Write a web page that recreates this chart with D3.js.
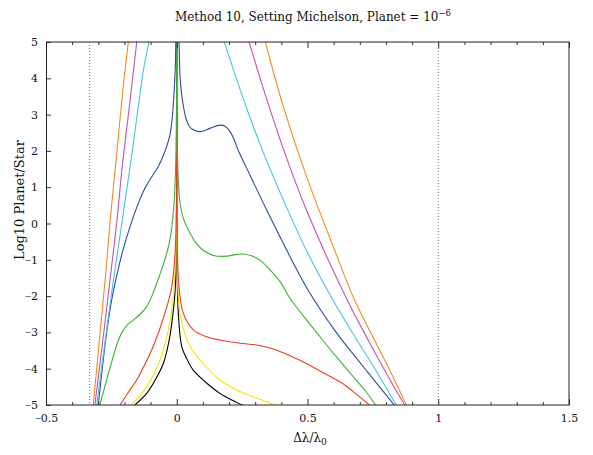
<!DOCTYPE html>
<html><head><meta charset="utf-8">
<script src="https://cdn.jsdelivr.net/npm/d3@7"></script>
<style>body{margin:0;background:#fff}svg{display:block}text{font-family:"DejaVu Serif",serif}</style>
</head><body><svg id="c" width="593" height="455"></svg>
<script>
// ---- data ----
const xDomain = [-0.5, 1.5];
const yDomain = [-5, 5];
const xMajorTicks = [-0.5, 0, 0.5, 1, 1.5];
const xMinorTicks = [-0.4,-0.3,-0.2,-0.1,0.1,0.2,0.3,0.4,0.6,0.7,0.8,0.9,1.1,1.2,1.3,1.4];
const yTicks = [-5,-4,-3,-2,-1,0,1,2,3,4,5];
const dottedLines = [-1/3, 1];

const seriesNames  = ["black","yellow","red","green","blue","cyan","magenta","orange"];
const seriesColors = ["#000000","#f5e600","#f03a24","#3cb034","#2c4aa6","#44c4e0","#c452a8","#f58a1e"];

const blackLeft  = [[-0.160,-5.0],[-0.115,-4.68],[-0.080,-4.28],[-0.051,-3.85],[-0.030,-3.25],[-0.019,-2.75],[-0.0067,-1.91],[-0.002,-0.95],[-0.0005,0.2],[-0.0001,5.3]];
const blackRight = [[0.0001,5.3],[0.0005,-0.45],[0.002,-1.6],[0.006,-2.47],[0.019,-3.39],[0.040,-3.75],[0.063,-4.04],[0.115,-4.40],[0.165,-4.68],[0.210,-4.86],[0.257,-5.02]];
const yellowLeft = [[-0.172,-5.0],[-0.145,-4.77],[-0.115,-4.50],[-0.064,-3.76],[-0.032,-2.93],[-0.013,-2.02],[-0.004,-0.83],[-0.001,0.57],[-0.0001,5.3]];
const yellowRight= [[0.0001,5.3],[0.0005,-0.4],[0.003,-1.6],[0.012,-2.47],[0.030,-3.0],[0.051,-3.39],[0.100,-3.85],[0.165,-4.31],[0.242,-4.63],[0.320,-4.85],[0.395,-5.05]];
const redLeft    = [[-0.217,-5.0],[-0.185,-4.65],[-0.153,-4.31],[-0.120,-3.85],[-0.090,-3.39],[-0.045,-2.47],[-0.019,-1.74],[-0.006,-0.76],[-0.001,0.76],[-0.0001,5.3]];
const redRight   = [[0.0001,5.3],[0.002,-0.5],[0.008,-1.7],[0.025,-2.47],[0.063,-2.93],[0.115,-3.12],[0.165,-3.21],[0.242,-3.30],[0.300,-3.34],[0.357,-3.43],[0.433,-3.64],[0.500,-3.87],[0.550,-4.07],[0.637,-4.42],[0.675,-4.63],[0.740,-5.02]];
const greenLeft  = [[-0.294,-5.0],[-0.268,-4.31],[-0.243,-3.67],[-0.225,-3.25],[-0.211,-3.02],[-0.190,-2.80],[-0.166,-2.66],[-0.140,-2.50],[-0.115,-2.29],[-0.095,-2.0],[-0.077,-1.65],[-0.050,-1.1],[-0.026,-0.45],[-0.012,0.4],[-0.005,1.38],[-0.001,3.16],[-0.0002,5.3]];
const greenRight = [[0.0002,5.3],[0.002,2.2],[0.006,1.2],[0.012,0.6],[0.025,0.15],[0.051,-0.27],[0.075,-0.55],[0.100,-0.73],[0.140,-0.88],[0.191,-0.90],[0.230,-0.85],[0.255,-0.84],[0.293,-0.91],[0.325,-1.05],[0.357,-1.28],[0.400,-1.65],[0.433,-2.06],[0.490,-2.6],[0.548,-3.12],[0.610,-3.67],[0.675,-4.22],[0.720,-4.6],[0.765,-5.05]];
const blueLeft   = [[-0.300,-5.0],[-0.285,-4.0],[-0.268,-3.0],[-0.250,-2.15],[-0.230,-1.45],[-0.210,-0.85],[-0.190,-0.35],[-0.170,0.10],[-0.150,0.50],[-0.130,0.85],[-0.110,1.12],[-0.090,1.35],[-0.070,1.58],[-0.051,1.88],[-0.035,2.2],[-0.026,2.44],[-0.018,2.85],[-0.013,3.3],[-0.008,3.9],[-0.0055,4.3],[-0.003,5.3]];
const blueRight  = [[0.008,5.3],[0.010,4.6],[0.013,4.0],[0.018,3.6],[0.025,3.25],[0.035,2.9],[0.048,2.68],[0.063,2.58],[0.089,2.53],[0.127,2.62],[0.165,2.71],[0.185,2.68],[0.204,2.53],[0.220,2.3],[0.235,2.02],[0.283,1.29],[0.344,0.37],[0.414,-0.64],[0.502,-1.83],[0.612,-3.02],[0.703,-3.85],[0.834,-5.02]];
const cyanLeft   = [[-0.306,-5.0],[-0.275,-3.3],[-0.243,-1.6],[-0.210,0.0],[-0.190,1.0],[-0.172,1.89],[-0.153,2.9],[-0.128,4.2],[-0.106,5.0]];
const cyanRight  = [[0.182,5.0],[0.228,4.0],[0.281,2.90],[0.330,1.98],[0.380,1.11],[0.436,0.19],[0.495,-0.73],[0.597,-2.11],[0.689,-3.21],[0.776,-4.22],[0.841,-5.02]];
const magentaLeft= [[-0.313,-5.0],[-0.284,-3.3],[-0.256,-1.6],[-0.230,0.0],[-0.208,1.6],[-0.180,3.3],[-0.153,5.0]];
const magentaRight=[[0.277,5.0],[0.321,3.95],[0.409,2.03],[0.496,0.37],[0.652,-2.11],[0.738,-3.29],[0.816,-4.31],[0.873,-5.02]];
const orangeLeft = [[-0.319,-5.0],[-0.297,-3.3],[-0.274,-1.56],[-0.253,0.2],[-0.230,1.89],[-0.204,3.82],[-0.185,5.0]];
const orangeRight= [[0.339,5.0],[0.406,3.26],[0.494,1.34],[0.596,-0.59],[0.680,-2.11],[0.762,-3.29],[0.827,-4.22],[0.879,-5.02]];

const seriesLeft  = [blackLeft,yellowLeft,redLeft,greenLeft,blueLeft,cyanLeft,magentaLeft,orangeLeft];
const seriesRight = [blackRight,yellowRight,redRight,greenRight,blueRight,cyanRight,magentaRight,orangeRight];

// ---- layout ----
const W = 593, H = 455;
const m = {left:46, right:24, top:42, bottom:50};
const svg = d3.select("#c");
const x = d3.scaleLinear().domain(xDomain).range([m.left, W - m.right]);
const y = d3.scaleLinear().domain(yDomain).range([H - m.bottom, m.top]);

svg.append("defs").append("clipPath").attr("id","clip")
  .append("rect").attr("x",m.left).attr("y",m.top)
  .attr("width",W-m.left-m.right).attr("height",H-m.top-m.bottom);

const plot = svg.append("g").attr("clip-path","url(#clip)");

// dotted lines
plot.selectAll("line.dot").data(dottedLines).join("line")
  .attr("x1",d=>x(d)).attr("x2",d=>x(d)).attr("y1",y(5)).attr("y2",y(-5))
  .attr("stroke","#777").attr("stroke-width",1).attr("stroke-dasharray","1,2");

const line = d3.line().x(d=>x(d[0])).y(d=>y(d[1])).curve(d3.curveCatmullRom.alpha(0.5));
seriesNames.forEach((n,i)=>{
  [seriesLeft[i], seriesRight[i]].forEach(pts=>{
    plot.append("path").datum(pts).attr("d",line)
      .attr("fill","none").attr("stroke",seriesColors[i]).attr("stroke-width",1.1);
  });
});

// axes
const fs = "11px";
svg.append("g").attr("transform",`translate(0,${y(-5)})`)
  .call(d3.axisBottom(x).tickValues(xMajorTicks).tickSize(-6).tickPadding(9).tickFormat(d3.format("")));
svg.append("g").attr("transform",`translate(0,${y(-5)})`)
  .call(d3.axisBottom(x).tickValues(xMinorTicks).tickSize(-3).tickFormat(""));
svg.append("g").attr("transform",`translate(0,${y(5)})`)
  .call(d3.axisTop(x).tickValues(xMajorTicks).tickSize(-6).tickFormat(""));
svg.append("g").attr("transform",`translate(0,${y(5)})`)
  .call(d3.axisTop(x).tickValues(xMinorTicks).tickSize(-3).tickFormat(""));
svg.append("g").attr("transform",`translate(${x(-0.5)},0)`)
  .call(d3.axisLeft(y).tickValues(yTicks).tickSize(-5).tickPadding(8).tickFormat(d3.format("")));
svg.selectAll(".domain").remove();
svg.selectAll(".tick line").attr("stroke","#333");
// tick labels: narrow minus sign, serif digits
svg.selectAll(".tick text").each(function(d){
  const el = d3.select(this);
  const s = el.text();
  if (s.startsWith("-") || s.startsWith("\u2212")) {
    el.text("");
    el.append("tspan").attr("font-family","Liberation Serif").text("\u2212");
    el.append("tspan").text(s.slice(1));
  }
}).attr("font-size",fs).attr("fill","#111").attr("font-family","DejaVu Serif");

// frame
svg.append("rect").attr("x",m.left+0.5).attr("y",m.top)
  .attr("width",W-m.left-m.right-0.5).attr("height",H-m.top-m.bottom)
  .attr("fill","none").attr("stroke","#222").attr("stroke-width",1);

// title
const t = svg.append("text").attr("x",313).attr("y",21).attr("text-anchor","middle")
  .attr("font-size","12px").attr("fill","#111");
t.append("tspan").text("Method 10, Setting Michelson, Planet = 10");
t.append("tspan").attr("dy","-5").attr("font-size","8.5px").text("\u22126");

// x label
const xl = svg.append("text").attr("x",310).attr("y",442).attr("text-anchor","middle")
  .attr("font-size","12px").attr("fill","#111");
xl.append("tspan").text("\u0394\u03bb/\u03bb");
xl.append("tspan").attr("dy","3").attr("font-size","9px").text("0");

// y label
svg.append("text").attr("transform","translate(24,200) rotate(-90)")
  .attr("text-anchor","middle").attr("font-size","13px").attr("fill","#111")
  .text("Log10 Planet/Star");
</script></body></html>
